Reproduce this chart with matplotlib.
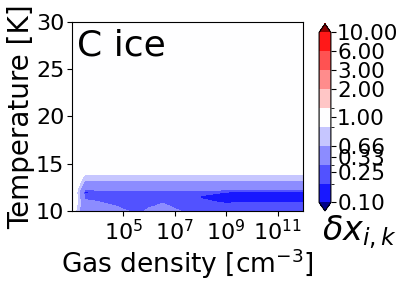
import numpy as np
import matplotlib
matplotlib.use("Agg")
import matplotlib.pyplot as plt
from matplotlib.colors import ListedColormap, BoundaryNorm
import matplotlib.cm as cm

# log10 of gas density (grid columns) and temperature (grid rows)
log_density = [3, 3.5, 4, 4.5, 5, 5.5, 6, 6.5, 7, 7.5, 8, 8.5, 9, 9.5, 10, 10.5, 11, 11.5, 12]
temperature = [10, 10.5, 11, 11.5, 12, 12.5, 13, 13.5, 14, 15, 30]

# ratio delta x_{i,k}, one row per temperature
ratio = [
    [0.90, 0.36, 0.36, 0.35, 0.31, 0.27, 0.33, 0.34, 0.32, 0.26, 0.26, 0.25, 0.25, 0.24, 0.24, 0.24, 0.24, 0.24, 0.24],
    [0.95, 0.35, 0.34, 0.31, 0.28, 0.27, 0.29, 0.32, 0.28, 0.26, 0.25, 0.24, 0.23, 0.22, 0.22, 0.22, 0.22, 0.22, 0.22],
    [1.00, 0.32, 0.30, 0.28, 0.27, 0.26, 0.27, 0.29, 0.27, 0.26, 0.22, 0.20, 0.18, 0.195, 0.195, 0.195, 0.195, 0.195, 0.195],
    [1.00, 0.27, 0.26, 0.26, 0.26, 0.26, 0.26, 0.27, 0.26, 0.25, 0.19, 0.17, 0.15, 0.14, 0.14, 0.14, 0.14, 0.14, 0.14],
    [1.00, 0.17, 0.22, 0.25, 0.25, 0.25, 0.25, 0.25, 0.25, 0.25, 0.24, 0.22, 0.20, 0.19, 0.19, 0.19, 0.19, 0.19, 0.19],
    [1.00] + [0.42] * 18,
    [1.00] + [0.60] * 18,
    [1.00] + [0.72] * 18,
    [1.00] + [0.83] * 18,
    [1.00] * 19,
    [1.00] * 19,
]

levels = [0.1, 0.2, 0.3, 0.66, 0.8, 1.25, 2, 3, 6, 10]
cbar_ticks = [0, 1.6, 2.4, 3, 4.5, 6, 7, 8, 9]
cbar_labels = ["0.10", "0.25", "0.33", "0.66", "1.00", "2.00", "3.00", "6.00", "10.00"]

bwr = plt.get_cmap("bwr")
colors = [bwr(v) for v in np.linspace(0.05, 0.95, 9)]
cmap = ListedColormap(colors)
cmap.set_under((0.0, 0.0, 0.55))
cmap.set_over((0.55, 0.0, 0.0))

fig = plt.figure(figsize=(4.07, 2.82), dpi=100)
ax = fig.add_axes([0.177, 0.252, 0.568, 0.67])

X, Y = np.meshgrid(10.0 ** np.array(log_density), temperature)
ax.contourf(X, Y, np.array(ratio), levels=levels, cmap=cmap,
            norm=BoundaryNorm(levels, 9), extend="both")
ax.set_xscale("log")
ax.set_xlim(1e3, 1e12)
ax.set_ylim(10, 30)
ax.set_xticks([1e5, 1e7, 1e9, 1e11])
ax.xaxis.set_minor_locator(matplotlib.ticker.NullLocator())
ax.set_yticks([10, 15, 20, 25, 30])
ax.tick_params(labelsize=16, pad=2)
ax.set_xlabel("Gas density [cm$^{-3}$]", fontsize=19, labelpad=2)
ax.set_ylabel("Temperature [K]", fontsize=20, labelpad=1)
ax.text(0.02, 0.965, "C ice", transform=ax.transAxes, fontsize=26,
        va="top", ha="left")

cax = fig.add_axes([0.784, 0.252, 0.029, 0.663])
sm = cm.ScalarMappable(norm=BoundaryNorm(np.arange(10), 9), cmap=cmap)
cb = fig.colorbar(sm, cax=cax, extend="both", ticks=cbar_ticks)
cb.ax.set_yticklabels(cbar_labels)
cb.ax.tick_params(labelsize=15.5, pad=1)
fig.text(0.882, 0.177, r"$\delta x_{i,k}$", fontsize=24, ha="center", va="center")

fig.savefig("out.png", dpi=100)
